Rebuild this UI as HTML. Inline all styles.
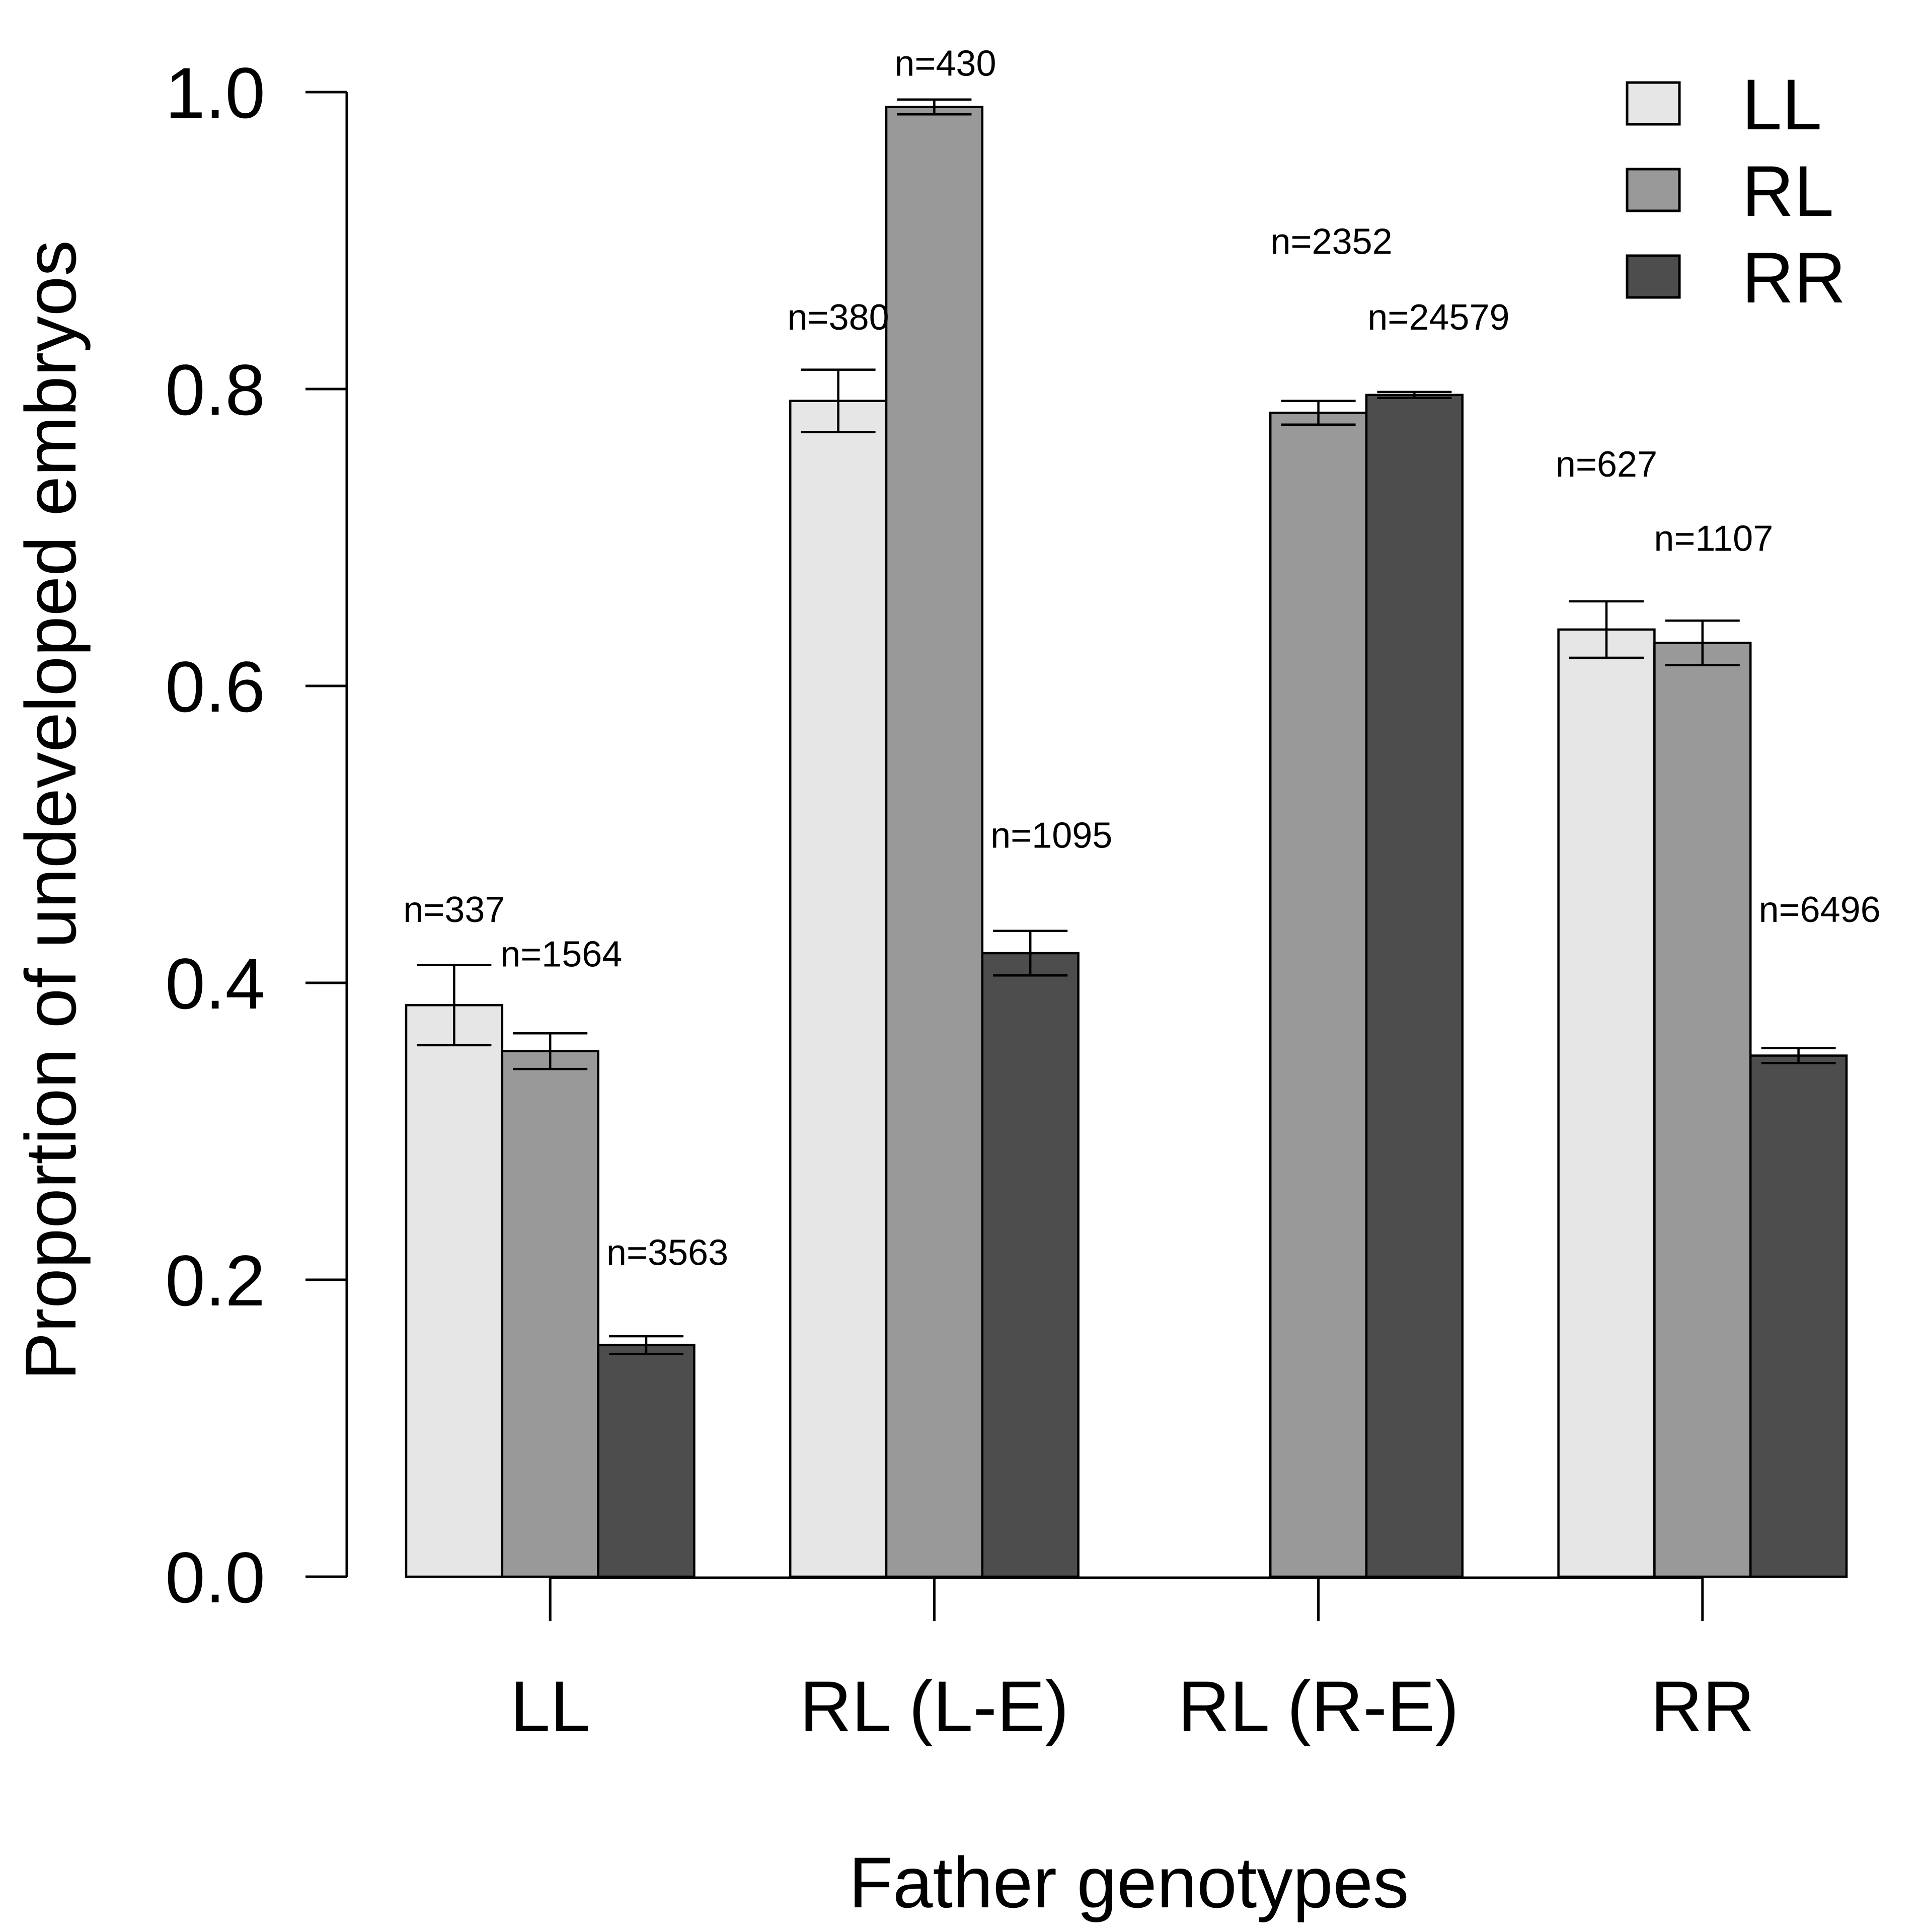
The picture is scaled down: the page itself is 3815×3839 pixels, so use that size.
<!DOCTYPE html>
<html><head><meta charset="utf-8"><style>
html,body{margin:0;padding:0;background:#fff;}
svg{display:block;font-family:"Liberation Sans",Arial,sans-serif;}
</style></head><body>
<svg id="chart" width="3815" height="3839" viewBox="0 0 3815 3839" xmlns="http://www.w3.org/2000/svg">
<g id="axes"></g>
<g id="bars"></g>
<g id="labels"></g>
<g id="legend"></g>
<text x="2243" y="3790" font-size="143" text-anchor="middle">Father genotypes</text>
<text transform="translate(150,1610) rotate(-90)" font-size="143" text-anchor="middle">Proportion of undeveloped embryos</text>
</svg>
<script>
const categories = ["LL", "RL (L-E)", "RL (R-E)", "RR"];
const seriesNames = ["LL", "RL", "RR"];
const seriesColors = ["#e6e6e6", "#999999", "#4d4d4d"];
const valuesLL = [0.385, 0.792, null, 0.638];
const valuesRL = [0.354, 0.990, 0.784, 0.629];
const valuesRR = [0.156, 0.420, 0.796, 0.351];
const errLL = [0.027, 0.021, null, 0.019];
const errRL = [0.012, 0.005, 0.008, 0.015];
const errRR = [0.006, 0.015, 0.002, 0.005];
const nLL = ["n=337", "n=380", "n=2352", "n=627"];
const nRL = ["n=1564", "n=430", "n=24579", "n=1107"];
const nRR = ["n=3563", "n=1095", "", "n=6496"];
const nPosLL = [0.441, 0.840, 0.891, 0.741];
const nPosRL = [0.411, 1.011, 0.840, 0.691];
const nPosRR = [0.210, 0.491, null, 0.441];
const yTicks = [0, 0.2, 0.4, 0.6, 0.8, 1.0];
const yTickLabels = ["0.0", "0.2", "0.4", "0.6", "0.8", "1.0"];

const NS = "http://www.w3.org/2000/svg";
const Y0 = 3133, YSCALE = 2950, X0 = 807, BW = 190.8;
function y(v){ return Y0 - v * YSCALE; }
function barLeft(g, s){ return X0 + g * 4 * BW + s * BW; }
function mk(tag, attrs, parent){ const e = document.createElementNS(NS, tag); for (const k in attrs) e.setAttribute(k, attrs[k]); parent.appendChild(e); return e; }

const axes = document.getElementById('axes');
const bars = document.getElementById('bars');
const labels = document.getElementById('labels');
const legend = document.getElementById('legend');

let yl = mk('line', {x1:689, x2:689, y1:y(1), y2:y(0), stroke:'#000', 'stroke-width':5}, axes);


yTicks.forEach((t, i) => {
  const tk = mk('line', {x1:607, x2:689, y1:y(t), y2:y(t), stroke:'#000', 'stroke-width':5}, axes);
  
  
  const tl = mk('text', {x:527, y:y(t)+51, 'font-size':143, 'text-anchor':'end'}, axes);
  tl.textContent = yTickLabels[i];
  
  
});
const firstC = barLeft(0,1.5), lastC = barLeft(categories.length-1,1.5);
let xl = mk('line', {x1:firstC, x2:lastC, y1:3135, y2:3135, stroke:'#000', 'stroke-width':5}, axes);


categories.forEach((c, g) => {
  const cx = barLeft(g, 1.5);
  const tk = mk('line', {x1:cx, x2:cx, y1:3135, y2:3221, stroke:'#000', 'stroke-width':5}, axes);
  
  
  const tl = mk('text', {x:cx, y:3440, 'font-size':143, 'text-anchor':'middle'}, axes);
  tl.textContent = c;
  
  
});

const vals = [valuesLL, valuesRL, valuesRR];
const errs = [errLL, errRL, errRR];
const ns = [nLL, nRL, nRR];
const nPos = [nPosLL, nPosRL, nPosRR];
const nOffset = [0, 22, 42];
categories.forEach((c, g) => {
  for (let s = 0; s < 3; s++) {
    const v = vals[s][g];
    const lx = barLeft(g, s);
    if (v !== null) {
      const r = mk('rect', {x:lx, y:y(v), width:BW, height:Y0 - y(v), fill:seriesColors[s], stroke:'#000', 'stroke-width':4.5}, bars);
      
      
      const e = errs[s][g];
      const cx = lx + BW/2;
      const eg = mk('g', {stroke:'#000', 'stroke-width':4.5}, bars);
      
      
      mk('line', {x1:cx, x2:cx, y1:y(v+e), y2:y(v-e)}, eg);
      mk('line', {x1:cx-74, x2:cx+74, y1:y(v+e), y2:y(v+e)}, eg);
      mk('line', {x1:cx-74, x2:cx+74, y1:y(v-e), y2:y(v-e)}, eg);
    }
    const np = nPos[s][g];
    if (np !== null && ns[s][g]) {
      const slot = (g === 2) ? s + 1 : s;
      const extra = (g === 2) ? 26 : 0;
      const t = mk('text', {x:barLeft(g, slot) + BW/2 + nOffset[s] + extra, y:y(np), 'font-size':72, 'text-anchor':'middle'}, labels);
      t.textContent = ns[s][g];
      
      
    }
  }
});

seriesNames.forEach((n, i) => {
  const yy = 164 + i * 172;
  const b = mk('rect', {x:3233, y:yy, width:104, height:83, fill:seriesColors[i], stroke:'#000', 'stroke-width':5}, legend);
  
  
  const t = mk('text', {x:3461, y:yy + 93, 'font-size':143}, legend);
  t.textContent = n;
  
  
});
</script>
</body></html>
